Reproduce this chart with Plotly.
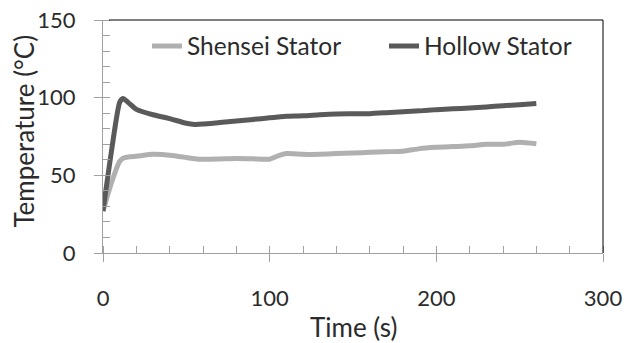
import plotly.graph_objects as go

time_s = [0, 5, 10, 12, 15, 20, 30, 40, 50, 55, 60, 70, 80, 90, 100, 105, 110, 120,
          130, 140, 150, 160, 170, 180, 190, 200, 210, 220, 230, 240, 250, 260]
hollow = [27, 65, 97, 99.5, 97, 92.5, 89, 86.5, 83.5, 82.8, 83, 84, 85, 86, 87, 87.5, 88, 88.3,
          89, 89.5, 89.6, 89.7, 90.3, 91, 91.5, 92.3, 92.8, 93.3, 94, 94.8, 95.5, 96.2]
shensei = [27, 45, 59, 61, 61.8, 62.3, 63.5, 63, 61.5, 60.7, 60.3, 60.5, 60.8, 60.6, 60.4, 62.5, 64, 63.5,
           63.6, 64, 64.3, 64.8, 65.2, 65.5, 67.2, 68, 68.5, 69, 70, 70, 71.3, 70.3]

series_names = ["Shensei Stator", "Hollow Stator"]
x_ticks = [0, 100, 200, 300]
y_ticks = [0, 50, 100, 150]
x_title = "Time (s)"
y_title = "Temperature (°C)"

FONT = "Lato"
TXT = "#2b2b2b"
AX = "#a0a0a0"

fig = go.Figure()
fig.add_trace(go.Scatter(x=time_s, y=shensei, name=series_names[0], mode="lines", legendwidth=192,
                         line=dict(color="#b0b0b0", width=5, shape="spline", smoothing=0.6)))
fig.add_trace(go.Scatter(x=time_s, y=hollow, name=series_names[1], mode="lines",
                         line=dict(color="#5a5a5a", width=5, shape="spline", smoothing=0.6)))

axis_common = dict(showgrid=False, zeroline=False, showline=True, linecolor=AX, linewidth=1,
                   ticks="outside", ticklen=8, tickcolor=AX, tickwidth=1, automargin=False,
                   tickfont=dict(family=FONT, size=22, color=TXT))
fig.update_xaxes(range=[0, 300], tickvals=x_ticks, ticklabelstandoff=18, **axis_common,
                 minor=dict(dtick=20, ticks="inside", ticklen=7, tickcolor=AX))
fig.update_yaxes(range=[0, 150], tickvals=y_ticks, ticklabelstandoff=14, **axis_common,
                 minor=dict(dtick=10, ticks="inside", ticklen=7, tickcolor=AX))

fig.add_shape(type="line", xref="paper", yref="paper", x0=0.012, x1=1, y0=1, y1=1,
              line=dict(color="black", width=1))
fig.add_shape(type="line", xref="paper", yref="paper", x0=1, x1=1, y0=0, y1=1,
              line=dict(color="black", width=1))

fig.add_annotation(text=x_title, xref="paper", yref="paper", x=0.5, y=-0.318,
                   xanchor="center", yanchor="middle", showarrow=False,
                   font=dict(family=FONT, size=26, color=TXT))
fig.add_annotation(text=y_title, xref="paper", yref="paper", x=-0.158, y=0.521,
                   xanchor="center", yanchor="middle", showarrow=False, textangle=-90,
                   font=dict(family=FONT, size=26, color=TXT))

fig.update_layout(
    width=625, height=343,
    margin=dict(l=103, r=22, t=20, b=90),
    plot_bgcolor="white", paper_bgcolor="white",
    font=dict(family=FONT, size=22, color=TXT),
    showlegend=True,
    legend=dict(orientation="h", x=0.088, xanchor="left", y=0.985, yanchor="top",
                font=dict(family=FONT, size=24.5, color=TXT), bgcolor="rgba(0,0,0,0)",
                tracegroupgap=0),
)
fig.write_html("out.html", config={"displayModeBar": False},
               post_script="document.body.style.margin='0';")
